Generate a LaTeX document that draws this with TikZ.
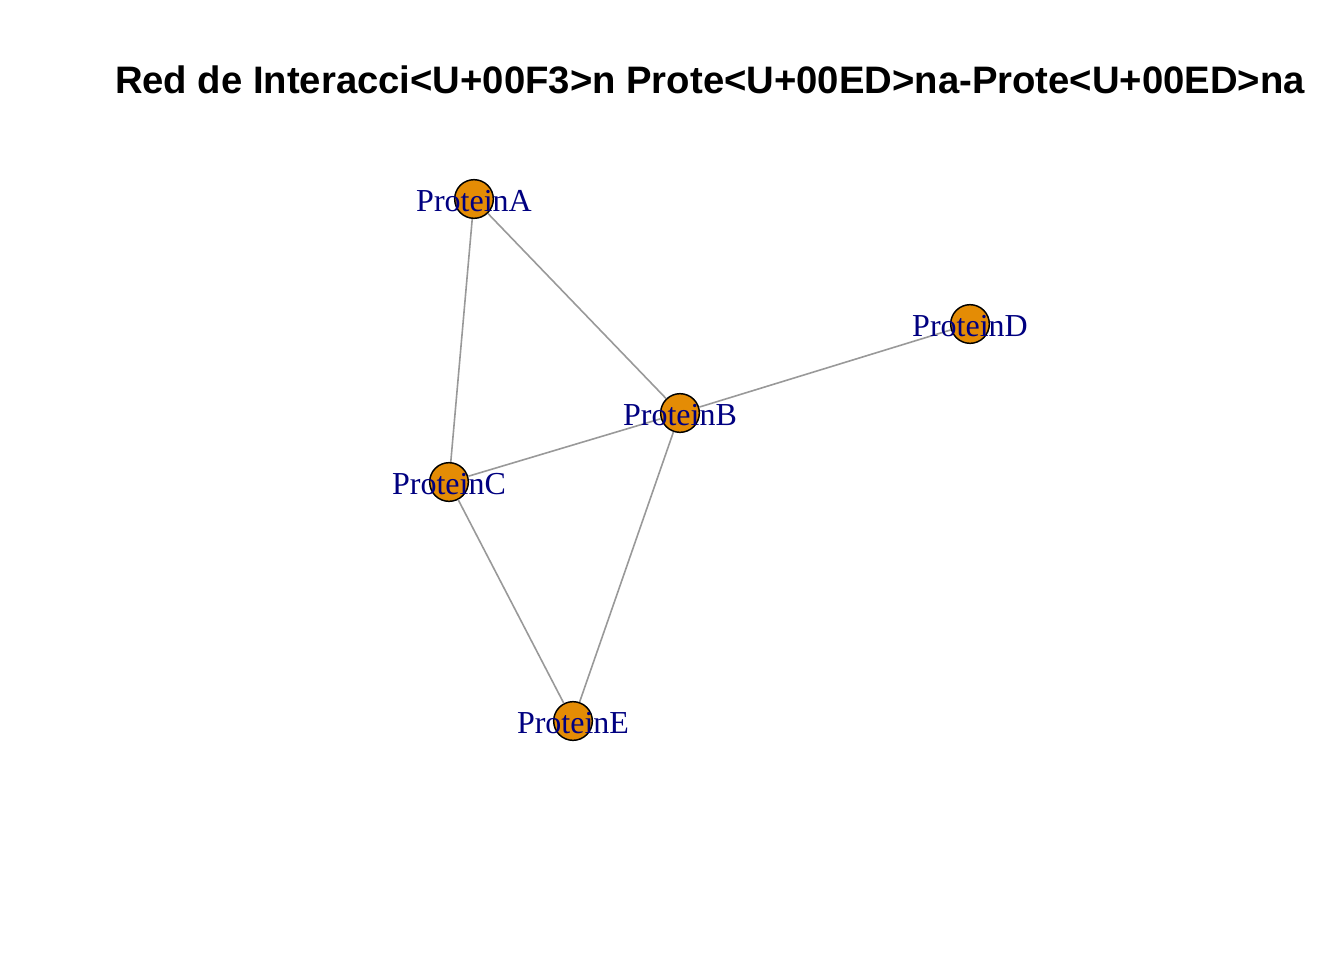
\documentclass[tikz,border=0pt]{standalone}
\usepackage{fontspec}
\setmainfont{Liberation Serif}
\newfontfamily\titlefont{Liberation Sans}
\definecolor{vfill}{RGB}{228,140,5}
\definecolor{edgegray}{RGB}{153,153,153}
\definecolor{labnavy}{RGB}{0,0,128}
\begin{document}
\begin{tikzpicture}[x=0.75pt,y=-0.75pt,
  vert/.style={circle,draw=black,fill=vfill,line width=1.1pt,minimum size=29pt,inner sep=0pt},
  lab/.style={text=labnavy,font=\fontsize{24pt}{25pt}\selectfont,inner sep=0pt},
  edge/.style={draw=edgegray,line width=1.2pt}]
\useasboundingbox (0,0) rectangle (1344,960);
\node[font=\titlefont\bfseries\fontsize{28.7pt}{31pt}\selectfont,anchor=base] (title) at (710,93) {Red de Interacci<U+00F3>n Prote<U+00ED>na-Prote<U+00ED>na};
\node[vert] (A) at (474,199) {};
\node[vert] (B) at (680,413) {};
\node[vert] (C) at (449,482) {};
\node[vert] (D) at (970,324) {};
\node[vert] (E) at (573,721) {};
\draw[edge] (A) -- (B);
\draw[edge] (A) -- (C);
\draw[edge] (B) -- (C);
\draw[edge] (B) -- (D);
\draw[edge] (B) -- (E);
\draw[edge] (C) -- (E);
\node[lab] (lA) at (474,201) {ProteinA};
\node[lab] (lB) at (680,415) {ProteinB};
\node[lab] (lC) at (449,484) {ProteinC};
\node[lab] (lD) at (970,326) {ProteinD};
\node[lab] (lE) at (573,723) {ProteinE};
\end{tikzpicture}
\end{document}
